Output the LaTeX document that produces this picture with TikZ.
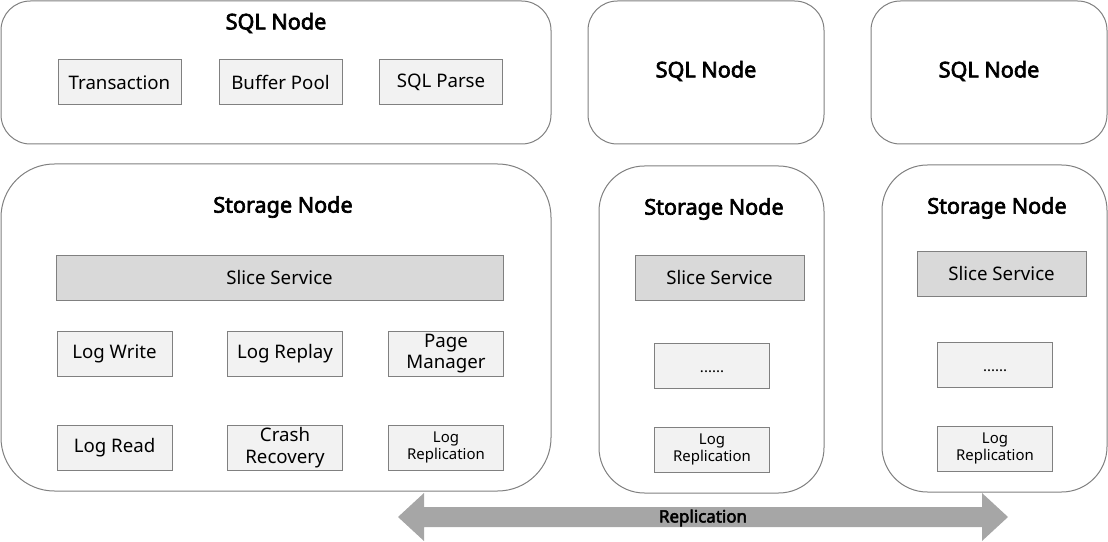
\documentclass[tikz,border=0pt]{standalone}
\usepackage{fontspec}
\setmainfont{Noto Sans}[BoldFont={Noto Sans}, BoldFeatures={FakeBold=3}]
\usetikzlibrary{positioning}

\definecolor{linegray}{HTML}{808080}
\definecolor{boxfill}{HTML}{F2F2F2}
\definecolor{slicefill}{HTML}{D9D9D9}
\definecolor{arrowgray}{HTML}{A6A6A6}

\tikzset{
  host/.style={draw=linegray, line width=0.75pt, fill=white, inner sep=0pt},
  title/.style={font=\fontsize{16.2}{19}\selectfont\bfseries},
  comp/.style={draw=linegray, line width=0.75pt, fill=boxfill, align=center,
    minimum width=86.25pt, minimum height=33.75pt, inner sep=1pt,
    font=\fontsize{14}{16.2}\selectfont},
  small/.style={font=\fontsize{11.2}{13}\selectfont},
  dots/.style={comp, small, text height=10pt, text depth=0pt},
  slice/.style={comp, fill=slicefill}
}

\begin{document}
\begin{tikzpicture}[x=0.75pt, y=-0.75pt]
\useasboundingbox (0,0) rectangle (1108,542);

% The hosts
\node (sqlA) [host, rounded corners=22pt, minimum width=412.5pt, minimum height=107.25pt] at (276,72.5) {};
\node (stoA) [host, rounded corners=40pt, minimum width=412.5pt, minimum height=245.25pt] at (276,327.5) {};
\node (sqlB) [host, rounded corners=22pt, minimum width=177pt, minimum height=107.25pt] at (706,72.5) {};
\node (stoB) [host, rounded corners=34pt, minimum width=168.75pt, minimum height=245.25pt] at (711.5,329.5) {};
\node (sqlC) [host, rounded corners=22pt, minimum width=177pt, minimum height=107.25pt] at (989,72.5) {};
\node (stoC) [host, rounded corners=34pt, minimum width=168.75pt, minimum height=245.25pt] at (994.5,328.5) {};

% Titles
\node (sqlAt) [title] at (276,23) {SQL Node};
\node (stoAt) [title] at (283,207) {Storage Node};
\node (sqlBt) [title] at (706,71) {SQL Node};
\node (stoBt) [title] at (714,209) {Storage Node};
\node (sqlCt) [title] at (989,71) {SQL Node};
\node (stoCt) [title] at (997,208) {Storage Node};

% SQL node parts
\node (trans) [comp, minimum width=92.25pt] at (119.5,82.5) {Transaction};
\node (bpool) [comp, minimum width=92.25pt] at (280.5,82.5) {Buffer Pool};
\node (parse) [comp, minimum width=92.25pt] at (441,82.5) {SQL Parse};

% Storage node parts
\node (sliceA) [slice, minimum width=335.25pt] at (279.5,277.5) {Slice Service};
\node (lwrite) [comp] at (114.5,353.5) {Log Write};
\node (lreplay) [comp] at (285,353.5) {Log Replay};
\node (pagemgr) [comp] at (446,353.5) {Page\\Manager};
\node (lread) [comp] at (114.5,447.5) {Log Read};
\node (crash) [comp] at (285,447.5) {Crash\\Recovery};
\node (lrepA) [comp, small] at (446,447.5) {Log\\Replication};

\node (sliceB) [slice, minimum width=126.75pt] at (719.5,277.5) {Slice Service};
\node (dotsB) [dots] at (712,365.5) {......};
\node (lrepB) [comp, small] at (712,449.5) {Log\\Replication};

\node (sliceC) [slice, minimum width=126.75pt] at (1001.5,273.5) {Slice Service};
\node (dotsC) [dots] at (995,364.5) {......};
\node (lrepC) [comp, small] at (995,448.5) {Log\\Replication};

% Replication arrow
\fill [arrowgray] (398,517) -- (424,493) -- (424,507) -- (982,507) -- (982,493)
  -- (1008,517) -- (982,541) -- (982,527) -- (424,527) -- (424,541) -- cycle;
\node (repl) [font=\fontsize{12.7}{15}\selectfont\bfseries] at (703,518) {Replication};

\end{tikzpicture}
\end{document}
